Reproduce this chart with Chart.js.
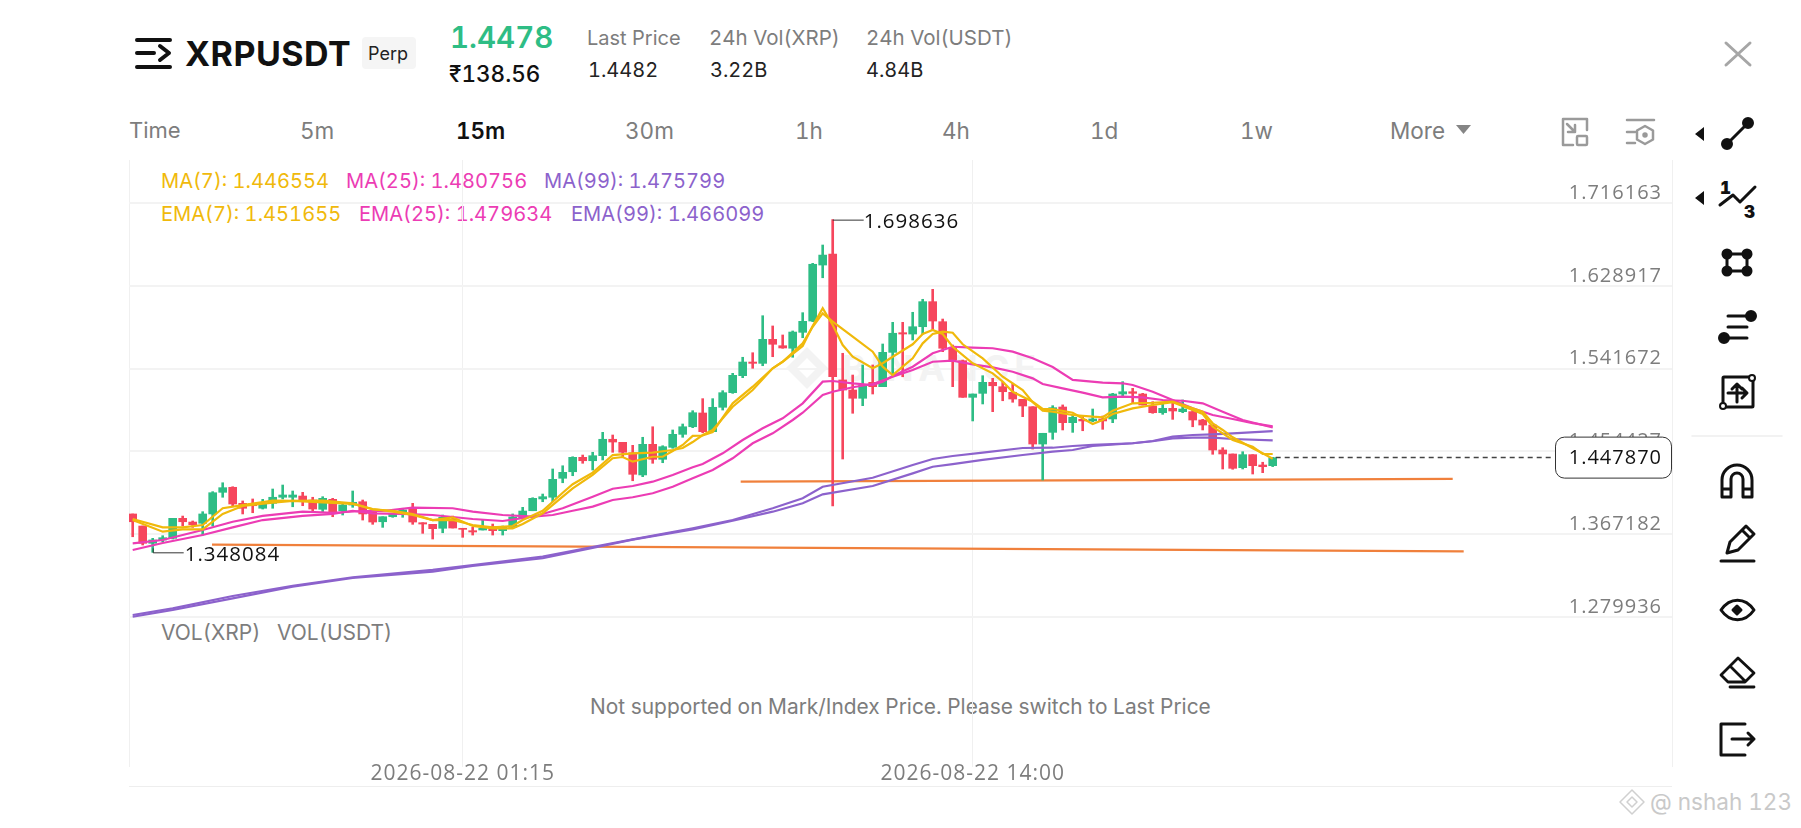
<!DOCTYPE html>
<html>
<head>
<meta charset="utf-8">
<title>XRPUSDT</title>
<script src="https://cdn.jsdelivr.net/npm/chart.js"></script>
<style>
  html, body { margin: 0; padding: 0; background: #fff; width: 1801px; height: 828px; overflow: hidden; }
  body { font-family: Inter, "Noto Sans", sans-serif; color: #222; font-variant-numeric: tabular-nums; }
  .t { position: absolute; white-space: nowrap; line-height: 1; }
  .grey { color: #7d7d7d; }
  .tab { font-size: 22.5px; top: 120px; color: #7d7d7d; }
  .lg { font-size: 20.1px; }
  #chart { position: absolute; left: 0; top: 0; z-index: 2; }
  #wm { z-index: 1; }
  #top { z-index: 3; }
</style>
</head>
<body>

<div id="wm">
  <svg width="1801" height="828" style="position:absolute;left:0;top:0">
    <path d="M807 347l21 21-21 21-21-21z M807 358l-10 10 10 10 10-10z" fill="#f3f3f3" fill-rule="evenodd"/>
  </svg>
  <div class="t" style="left:842px;top:350px;font-size:36px;font-weight:700;letter-spacing:5px;color:#f3f3f3">BINANCE</div>
</div>

<canvas id="chart" width="1801" height="828"></canvas>

<div id="top">
  <div class="t" style="left:185px;top:37px;font-size:34px;font-weight:700;letter-spacing:.5px;color:#111">XRPUSDT</div>
  <div style="position:absolute;left:362px;top:37px;width:54px;height:32px;background:#f5f5f5;border-radius:4px"></div>
  <div class="t" style="left:368px;top:45px;font-size:18px">Perp</div>
  <div class="t" style="left:450px;top:23px;font-size:29.5px;font-weight:600;color:#2ebd85">1.4478</div>
  <div class="t" style="left:449px;top:63px;font-size:22.5px;font-weight:500;color:#111">₹138.56</div>
  <div class="t grey" style="left:587px;top:28px;font-size:20px">Last Price</div>
  <div class="t" style="left:588px;top:60px;font-size:20px">1.4482</div>
  <div class="t grey" style="left:709px;top:28px;font-size:20.5px">24h Vol(XRP)</div>
  <div class="t" style="left:710px;top:60px;font-size:20px">3.22B</div>
  <div class="t grey" style="left:866px;top:28px;font-size:20.5px">24h Vol(USDT)</div>
  <div class="t" style="left:866px;top:60px;font-size:20px">4.84B</div>

  <div class="t grey" style="left:129px;top:119px;font-size:22px">Time</div>
  <div class="t tab" style="left:300px">5m</div>
  <div class="t tab" style="left:456px;color:#111;font-weight:600">15m</div>
  <div class="t tab" style="left:625px">30m</div>
  <div class="t tab" style="left:795px">1h</div>
  <div class="t tab" style="left:942px">4h</div>
  <div class="t tab" style="left:1090px">1d</div>
  <div class="t tab" style="left:1240px">1w</div>
  <div class="t tab" style="left:1390px">More</div>

  <div class="t lg" style="left:161px;top:171px;color:#f0b90b">MA(7): 1.446554</div>
  <div class="t lg" style="left:346px;top:171px;color:#ec3cb4">MA(25): 1.480756</div>
  <div class="t lg" style="left:544px;top:171px;color:#8c62cc">MA(99): 1.475799</div>
  <div class="t lg" style="left:161px;top:204px;color:#f0b90b">EMA(7): 1.451655</div>
  <div class="t lg" style="left:359px;top:204px;color:#ec3cb4">EMA(25): 1.479634</div>
  <div class="t lg" style="left:571px;top:204px;color:#8c62cc">EMA(99): 1.466099</div>

  <div class="t grey" style="left:161px;top:622px;font-size:21px">VOL(XRP)</div>
  <div class="t grey" style="left:277px;top:622px;font-size:21px">VOL(USDT)</div>
  <div class="t grey" style="left:590px;top:697px;font-size:20.9px">Not supported on Mark/Index Price. Please switch to Last Price</div>

  <div style="position:absolute;left:129px;top:786px;width:1543px;height:1px;background:#eeeeee"></div>
  <div class="t" style="left:1650px;top:791px;font-size:22.5px;color:#c9c9c9">@ nshah 123</div>

  <svg width="1801" height="828" style="position:absolute;left:0;top:0" fill="none" stroke="#111" stroke-width="3" stroke-linecap="round" stroke-linejoin="round">
    <!-- header menu -->
    <g stroke-width="4">
      <path d="M137 40h33M137 53h17M160 46l9 7-9 7M137 67h33"/>
    </g>
    <!-- close, more, expand, settings -->
    <path d="M1726 43l24 22M1750 43l-24 22" stroke="#a6a6a6"/>
    <path d="M1456 125h15l-7.500 9z" fill="#858585" stroke="none"/>
    <g stroke="#9a9a9a" stroke-width="2.500">
      <path d="M1563 145v-26h24v11M1563 145h10"/>
      <rect x="1577" y="136" width="10" height="9" rx="1"/>
      <path d="M1567 124l8 8M1575 125v7h-7"/>
      <path d="M1627 120h27M1627 132h8M1627 143h8"/>
      <path d="M1645 126l8 4.500v9l-8 4.500-8-4.500v-9z"/>
      <circle cx="1645" cy="135" r="1.500" fill="#9a9a9a"/>
    </g>
    <!-- toolbar -->
    <path d="M1695 134l9-7v14z M1695 198l9-7v14z" fill="#111" stroke="none"/>
    <path d="M1727 144l21-21"/>
    <circle cx="1727" cy="144" r="4.500" fill="#111"/><circle cx="1748" cy="123" r="4.500" fill="#111"/>
    <path d="M1720 205l13-10 7 7 15-15"/>
    <rect x="1727" y="254" width="20" height="17"/>
    <circle cx="1727" cy="254" r="4" fill="#111"/><circle cx="1747" cy="254" r="4" fill="#111"/>
    <circle cx="1727" cy="271" r="4" fill="#111"/><circle cx="1747" cy="271" r="4" fill="#111"/>
    <path d="M1728 316h22M1728 327h19M1728 338h19"/>
    <circle cx="1751" cy="316" r="4.500" fill="#111"/><circle cx="1724" cy="338" r="4.500" fill="#111"/>
    <rect x="1723" y="377" width="30" height="30" rx="1"/>
    <circle cx="1752" cy="378" r="3" fill="#fff" stroke-width="2"/><circle cx="1723" cy="406" r="3" fill="#fff" stroke-width="2"/>
    <path d="M1737 384v18M1728 393h18M1742 388l5 5-5 5M1732 389l5-5 5 5"/>
    <path d="M1692 436h90" stroke="#eeeeee" stroke-width="1.500"/>
    <path d="M1722 497v-17a15 15 0 0 1 30 0v17h-9v-18a6 6 0 0 0-12 0v18zM1722 489h9M1743 489h9"/>
    <path d="M1721 561h33" stroke-width="3"/>
    <path d="M1727 553l3-11 16-16 8 8-16 16zM1742 530l8 8"/>
    <path d="M1721 610c9-13 24-13 33 0-9 13-24 13-33 0z"/>
    <path d="M1737 606l4 4-4 4-4-4z" fill="#111"/>
    <path d="M1721 675l17-17 16 15-9 9h-17zM1730 666l15 15M1730 687h24" stroke-width="2.800"/>
    <path d="M1745 724h-24v31h24M1732 739h22M1748 733l6 6-6 6"/>
    <!-- footer logo -->
    <path d="M1632 790l12 12-12 12-12-12z M1632 797l-5 5 5 5 5-5z" stroke="#d0d0d0" stroke-width="1.500"/>
    <!-- digits of the fib icon are real text -->
    <text x="1720" y="194" font-family="Inter" font-size="17" font-weight="900" fill="#111" stroke="none">1</text>
    <text x="1744" y="218" font-family="Inter" font-size="17" font-weight="900" fill="#111" stroke="none">3</text>
  </svg>
</div>

<script>
/*
    XRPUSDT 15m candles, moving averages and drawn trend lines
*/
const opens = [
  1.3885,1.3758,1.3576,1.3611,1.3628,1.3839,1.3800,1.3787,1.3885,1.4113,
  1.4166,1.3997,1.3997,1.3945,1.3997,1.4061,1.4061,1.4074,1.4032,1.3934,
  1.4039,1.3919,1.3979,1.4014,1.3902,1.3803,1.3856,1.3892,1.3945,1.3793,
  1.3776,1.3734,1.3829,1.3734,1.3709,1.3716,1.3751,1.3709,1.3744,1.3839,
  1.3919,1.4043,1.4061,1.4261,1.4330,1.4482,1.4446,1.4499,1.4672,1.4640,
  1.4530,1.4296,1.4619,1.4461,1.4587,1.4724,1.4804,1.4949,1.4752,1.5009,
  1.5163,1.5342,1.5486,1.5472,1.5725,1.5658,1.5631,1.5799,1.5918,1.6508,
  1.6624,1.5297,1.5191,1.5104,1.5272,1.5226,1.5588,1.5795,1.5781,1.5858,
  1.6122,1.5911,1.5631,1.5500,1.5114,1.5156,1.5272,1.5226,1.5167,1.5093,
  1.5015,1.4622,1.4745,1.5012,1.4847,1.4882,1.4865,1.4886,1.4886,1.5149,
  1.5173,1.5149,1.5023,1.4952,1.4998,1.4963,1.4963,1.4875,1.4822,1.4559,
  1.4517,1.4373,1.4510,1.4401,1.4394
];
const closes = [
  1.3803,1.3576,1.3611,1.3635,1.3839,1.3803,1.3772,1.3885,1.4109,1.4162,
  1.3990,1.3945,1.3972,1.3997,1.4061,1.4085,1.4085,1.4025,1.3937,1.4050,
  1.3909,1.3979,1.4008,1.3885,1.3800,1.3856,1.3892,1.3927,1.3800,1.3779,
  1.3730,1.3850,1.3737,1.3723,1.3695,1.3734,1.3709,1.3744,1.3853,1.3916,
  1.4050,1.4067,1.4250,1.4324,1.4482,1.4446,1.4499,1.4672,1.4643,1.4535,
  1.4303,1.4619,1.4461,1.4594,1.4724,1.4804,1.4952,1.4752,1.5009,1.5163,
  1.5346,1.5486,1.5472,1.5725,1.5673,1.5634,1.5802,1.5915,1.6516,1.6613,
  1.5331,1.5191,1.5104,1.5244,1.5226,1.5588,1.5789,1.5781,1.5858,1.6122,
  1.5918,1.5631,1.5507,1.5114,1.5149,1.5272,1.5236,1.5173,1.5096,1.5023,
  1.4622,1.4735,1.5005,1.4847,1.4903,1.4865,1.4886,1.4865,1.5149,1.5173,
  1.5156,1.5033,1.4952,1.4998,1.4970,1.4991,1.4875,1.4822,1.4559,1.4517,
  1.4366,1.4510,1.4394,1.4383,1.4478
];
const highs = [
  1.3885,1.3758,1.3628,1.3656,1.3839,1.3863,1.3811,1.3909,1.4120,1.4214,
  1.4172,1.4022,1.4043,1.4039,1.4148,1.4190,1.4127,1.4113,1.4061,1.4067,
  1.4050,1.3997,1.4127,1.4032,1.3902,1.3856,1.3892,1.3945,1.3997,1.3793,
  1.3776,1.3874,1.3863,1.3734,1.3744,1.3821,1.3779,1.3758,1.3885,1.3955,
  1.4056,1.4095,1.4359,1.4393,1.4488,1.4506,1.4535,1.4745,1.4717,1.4640,
  1.4608,1.4693,1.4804,1.4604,1.4770,1.4833,1.4973,1.5100,1.5100,1.5184,
  1.5367,1.5536,1.5584,1.5974,1.5866,1.5771,1.5813,1.6006,1.6526,1.6719,
  1.698636,1.5578,1.5349,1.5455,1.5455,1.5676,1.5904,1.5904,1.6010,1.6147,
  1.6252,1.5939,1.5665,1.5507,1.5149,1.5342,1.5314,1.5272,1.5262,1.5093,
  1.5015,1.4735,1.5026,1.5034,1.4928,1.4910,1.4991,1.4917,1.5156,1.5279,
  1.5209,1.5156,1.5068,1.5051,1.5051,1.5086,1.4998,1.4882,1.4822,1.4583,
  1.4517,1.4541,1.4510,1.4430,1.4482
];
const lows = [
  1.3645,1.3558,1.348084,1.3593,1.3621,1.3758,1.3744,1.3663,1.3758,1.4061,
  1.3969,1.3885,1.3898,1.3937,1.3945,1.4043,1.3961,1.3972,1.3916,1.3902,
  1.3856,1.3874,1.3955,1.3821,1.3776,1.3744,1.3850,1.3850,1.3776,1.3681,
  1.3621,1.3687,1.3737,1.3639,1.3663,1.3716,1.3663,1.3663,1.3730,1.3832,
  1.3919,1.4014,1.4014,1.4214,1.4288,1.4419,1.4348,1.4454,1.4535,1.4488,
  1.4235,1.4278,1.4419,1.4425,1.4577,1.4693,1.4794,1.4741,1.4752,1.4980,
  1.5156,1.5321,1.5420,1.5447,1.5542,1.5631,1.5536,1.5742,1.5911,1.6374,
  1.3969,1.4464,1.4946,1.5026,1.5149,1.5226,1.5349,1.5331,1.5718,1.5781,
  1.5823,1.5595,1.5226,1.5114,1.4865,1.5044,1.4963,1.5078,1.5062,1.4910,
  1.4569,1.4243,1.4672,1.4770,1.4745,1.4762,1.4857,1.4777,1.4847,1.5131,
  1.5051,1.5033,1.4946,1.4935,1.4882,1.4952,1.4804,1.4770,1.4514,1.4359,
  1.4356,1.4359,1.4306,1.4320,1.4384
];

// [candle index, price] read at the corners of each line
const ma7 = [[0,1.3832],[3,1.3744],[5,1.3744],[7,1.3769],[9,1.3945],[11,1.3979],[14,1.4025],[16,1.4022],[19,1.4025],[22,1.3997],
  [24,1.3934],[26,1.3919],[28,1.3885],[30,1.3821],[32,1.3821],[34,1.3769],[36,1.3744],[38,1.3758],[39,1.3821],[41,1.3919],
  [43,1.4109],[44,1.4198],[46,1.4320],[48,1.4506],[50,1.4524],[52,1.4531],[54,1.4559],[55,1.4580],[56,1.4643],[57,1.4717],
  [58,1.4770],[60,1.5015],[62,1.5191],[64,1.5420],[65,1.5489],[67,1.5683],[68,1.5858],[69,1.5999],[70,1.5911],[72,1.5753],
  [74,1.5595],[75,1.5437],[76,1.5349],[77,1.5437],[78,1.5525],[79,1.5683],[80,1.5781],[81,1.5806],[82,1.5795],[83,1.5673],
  [85,1.5525],[87,1.5331],[89,1.5191],[90,1.5062],[91,1.4973],[92,1.4963],[94,1.4928],[96,1.4910],[97,1.4904],[98,1.4973],
  [100,1.5051],[102,1.5057],[104,1.5068],[106,1.4998],[107,1.4963],[108,1.4840],[109,1.4770],[110,1.4693],[112,1.4577],[113,1.4524],[114,1.4466]];
const ema7 = [[0,1.3821],[3,1.3698],[5,1.3723],[7,1.3723],[9,1.3885],[11,1.3969],[14,1.4004],[16,1.4022],[19,1.4008],[22,1.3990],
  [24,1.3937],[26,1.3909],[28,1.3874],[30,1.3821],[32,1.3850],[34,1.3758],[36,1.3734],[38,1.3734],[39,1.3779],[41,1.3892],
  [43,1.4067],[44,1.4155],[46,1.4296],[48,1.4472],[49,1.4485],[50,1.4436],[52,1.4488],[53,1.4488],[54,1.4548],[55,1.4612],
  [56,1.4707],[57,1.4712],[58,1.4749],[60,1.5051],[62,1.5226],[64,1.5420],[65,1.5489],[67,1.5655],[68,1.5866],[69,1.6052],
  [70,1.5876],[71,1.5665],[72,1.5542],[74,1.5420],[75,1.5473],[76,1.5542],[78,1.5673],[79,1.5781],[80,1.5823],[81,1.5781],
  [82,1.5647],[84,1.5473],[86,1.5367],[87,1.5279],[88,1.5173],[90,1.5068],[91,1.4991],[92,1.4991],[94,1.4952],[96,1.4833],
  [97,1.4875],[98,1.4938],[100,1.4998],[102,1.5033],[104,1.5062],[106,1.4980],[107,1.4938],[108,1.4805],[109,1.4735],[110,1.4664],
  [112,1.4594],[113,1.4517],[114,1.4517]];
const ma25 = [[0,1.3576],[3,1.3611],[7,1.3716],[10,1.3803],[13,1.3864],[17,1.3909],[20,1.3898],[23,1.3916],[25,1.3916],[28,1.3951],
  [32,1.3945],[34,1.3909],[37,1.3874],[40,1.3856],[43,1.3945],[46,1.4067],[48,1.4151],[50,1.4180],[52,1.4225],[54,1.4296],
  [56,1.4377],[57,1.4411],[59,1.4524],[61,1.4664],[63,1.4788],[65,1.4893],[67,1.5051],[69,1.5279],[70,1.5286],[72,1.5262],
  [74,1.5244],[75,1.5279],[76,1.5339],[78,1.5437],[80,1.5578],[82,1.5647],[84,1.5637],[86,1.5631],[88,1.5595],[90,1.5525],
  [92,1.5434],[94,1.5297],[97,1.5268],[99,1.5262],[100,1.5244],[102,1.5173],[104,1.5086],[106,1.4998],[108,1.4928],[110,1.4886],
  [112,1.4843],[114,1.4808]];
const ema25 = [[0,1.3505],[3,1.3579],[7,1.3663],[10,1.3744],[13,1.3821],[17,1.3864],[20,1.3885],[22,1.3919],[24,1.3892],[27,1.3885],
  [30,1.3874],[34,1.3832],[37,1.3811],[40,1.3856],[42,1.3874],[44,1.3919],[46,1.3962],[48,1.4032],[50,1.4061],[52,1.4103],
  [54,1.4172],[56,1.4261],[58,1.4348],[60,1.4472],[62,1.4630],[64,1.4735],[66,1.4875],[67,1.4952],[69,1.5139],[70,1.5173],
  [72,1.5220],[74,1.5254],[76,1.5331],[78,1.5402],[80,1.5489],[82,1.5500],[84,1.5462],[86,1.5430],[88,1.5384],[90,1.5314],
  [91,1.5254],[93,1.5209],[95,1.5163],[97,1.5114],[99,1.5121],[101,1.5114],[103,1.5086],[105,1.5078],[107,1.5051],[109,1.4963],
  [111,1.4875],[114,1.4796]];
const ma99 = [[0,1.2820],[4,1.2891],[10,1.3021],[16,1.3129],[22,1.3218],[30,1.3295],[34,1.3347],[41,1.3435],[50,1.3618],[56,1.3734],
  [60,1.3821],[64,1.3945],[67,1.4050],[69,1.4172],[74,1.4267],[78,1.4401],[80,1.4464],[82,1.4496],[85,1.4531],[89,1.4580],
  [92,1.4583],[94,1.4601],[96,1.4612],[100,1.4630],[102,1.4654],[104,1.4699],[106,1.4717],[108,1.4724],[110,1.4735],[114,1.4758]];
const ema99 = [[0,1.2802],[4,1.2873],[10,1.2996],[16,1.3119],[22,1.3210],[30,1.3277],[34,1.3337],[41,1.3418],[50,1.3614],[56,1.3723],
  [60,1.3814],[64,1.3909],[67,1.3997],[69,1.4092],[74,1.4180],[78,1.4313],[80,1.4383],[82,1.4411],[85,1.4454],[89,1.4506],
  [92,1.4541],[94,1.4559],[96,1.4601],[100,1.4630],[102,1.4651],[104,1.4682],[106,1.4689],[108,1.4689],[110,1.4675],[114,1.4661]];

const trendLow = [[7.93,1.3561],[133.1,1.3490]];
const trendHigh = [[60.8,1.4225],[132,1.4254]];
const lastPrice = 1.447870;
const lastLine = [[114.3,lastPrice],[142.2,lastPrice]];

const yTicks = [1.716163, 1.628917, 1.541672, 1.454427, 1.367182, 1.279936];
const timeTicks = [[33, '2026-08-22 01:15'], [84, '2026-08-22 14:00']];

const GREEN = '#2ebd85', RED = '#f6465d';
const xMin = -0.37, xMax = 153.93;
const LABEL_FONT = '"Open Sans"';

function points(list) {
  return list.map(function (p) { return { x: p[0], y: p[1] }; });
}
function lineSet(list, color, order, extra) {
  return Object.assign({
    type: 'line', data: points(list), borderColor: color, borderWidth: 2.2,
    pointRadius: 0, tension: 0, order: order
  }, extra || {});
}

const candleColors = opens.map(function (o, i) { return closes[i] >= o ? GREEN : RED; });

// high / low leaders, time labels and the last price box
const annotations = {
  id: 'annotations',
  beforeDraw: function (chart) {
    chart.ctx.letterSpacing = '1px';
  },
  afterDraw: function (chart) {
    const ctx = chart.ctx, x = chart.scales.x, y = chart.scales.y;
    const hi = Math.max.apply(null, highs), lo = Math.min.apply(null, lows);
    const hx = x.getPixelForValue(highs.indexOf(hi)), hy = y.getPixelForValue(hi);
    const lx = x.getPixelForValue(lows.indexOf(lo)), ly = y.getPixelForValue(lo);

    ctx.save();
    ctx.font = '20.5px ' + LABEL_FONT;
    ctx.textBaseline = 'middle';
    ctx.fillStyle = '#111';
    ctx.strokeStyle = '#333';
    ctx.lineWidth = 1;
    ctx.beginPath();
    ctx.moveTo(hx, hy + 0.5); ctx.lineTo(hx + 31, hy + 0.5);
    ctx.moveTo(lx + 0.5, ly - 4); ctx.lineTo(lx + 0.5, ly + 0.5); ctx.lineTo(lx + 31, ly + 0.5);
    ctx.stroke();
    ctx.fillText(hi.toFixed(6), hx + 31, hy + 3);
    ctx.fillText(lo.toFixed(6), lx + 32, ly + 3);

    ctx.fillStyle = '#7d7d7d';
    ctx.textAlign = 'center';
    ctx.font = '21px ' + LABEL_FONT;
    timeTicks.forEach(function (t) {
      ctx.fillText(t[1], x.getPixelForValue(t[0]), 774);
    });

    const py = y.getPixelForValue(lastPrice);
    ctx.font = '20px ' + LABEL_FONT;
    ctx.fillStyle = '#fff';
    ctx.beginPath();
    ctx.roundRect(1555.5, py - 20.5, 116, 41, 9);
    ctx.fill();
    ctx.stroke();
    ctx.fillStyle = '#111';
    ctx.textAlign = 'right';
    ctx.fillText(lastPrice.toFixed(6), 1662, py + 1);
    ctx.restore();
  }
};

new Chart(document.getElementById('chart').getContext('2d'), {
  type: 'bar',
  data: {
    datasets: [
      lineSet(trendLow, '#f0803c', 6),
      lineSet(trendHigh, '#f0803c', 6),
      {
        data: highs.map(function (h, i) { return { x: i, y: [lows[i], h] }; }),
        backgroundColor: candleColors, barThickness: 2, grouped: false, order: 4
      },
      {
        data: opens.map(function (o, i) { return { x: i, y: [o, closes[i]] }; }),
        backgroundColor: candleColors, barThickness: 8, grouped: false, order: 3
      },
      lineSet(ma99, '#8c62cc', 2),
      lineSet(ema99, '#8c62cc', 2),
      lineSet(ma25, '#ec3cb4', 2),
      lineSet(ema25, '#ec3cb4', 2),
      lineSet(ma7, '#f0b90b', 1),
      lineSet(ema7, '#f0b90b', 1),
      lineSet(lastLine, '#444', 0, { borderWidth: 1.5, borderDash: [5, 4] })
    ]
  },
  options: {
    responsive: false,
    animation: false,
    layout: { padding: { left: 129, right: 129, top: 160, bottom: 26 } },
    plugins: { legend: { display: false }, tooltip: { enabled: false } },
    scales: {
      x: {
        type: 'linear', min: xMin, max: xMax, offset: false,
        afterBuildTicks: function (s) {
          s.ticks = [{ value: xMin }].concat(timeTicks.map(function (t) { return { value: t[0] }; }), [{ value: xMax }]);
        },
        afterFit: function (s) { s.height = 35; },
        grid: { color: '#f0f0f0', lineWidth: 1, drawTicks: false, offset: false },
        border: { display: false },
        ticks: { display: false, autoSkip: false, maxRotation: 0 }
      },
      y: {
        position: 'right',
        min: 1.12188, max: 1.76147,
        afterBuildTicks: function (s) {
          s.ticks = yTicks.map(function (v) { return { value: v }; });
        },
        afterFit: function (s) { s.width = 0; },
        grid: { color: '#f3f3f3', lineWidth: 2, drawTicks: false },
        border: { display: false },
        ticks: {
          mirror: true, padding: -10, labelOffset: -10, color: '#7d7d7d', font: { family: LABEL_FONT, size: 20 },
          callback: function (v) { return v.toFixed(6); }
        }
      }
    }
  },
  plugins: [annotations]
});
</script>
</body>
</html>
